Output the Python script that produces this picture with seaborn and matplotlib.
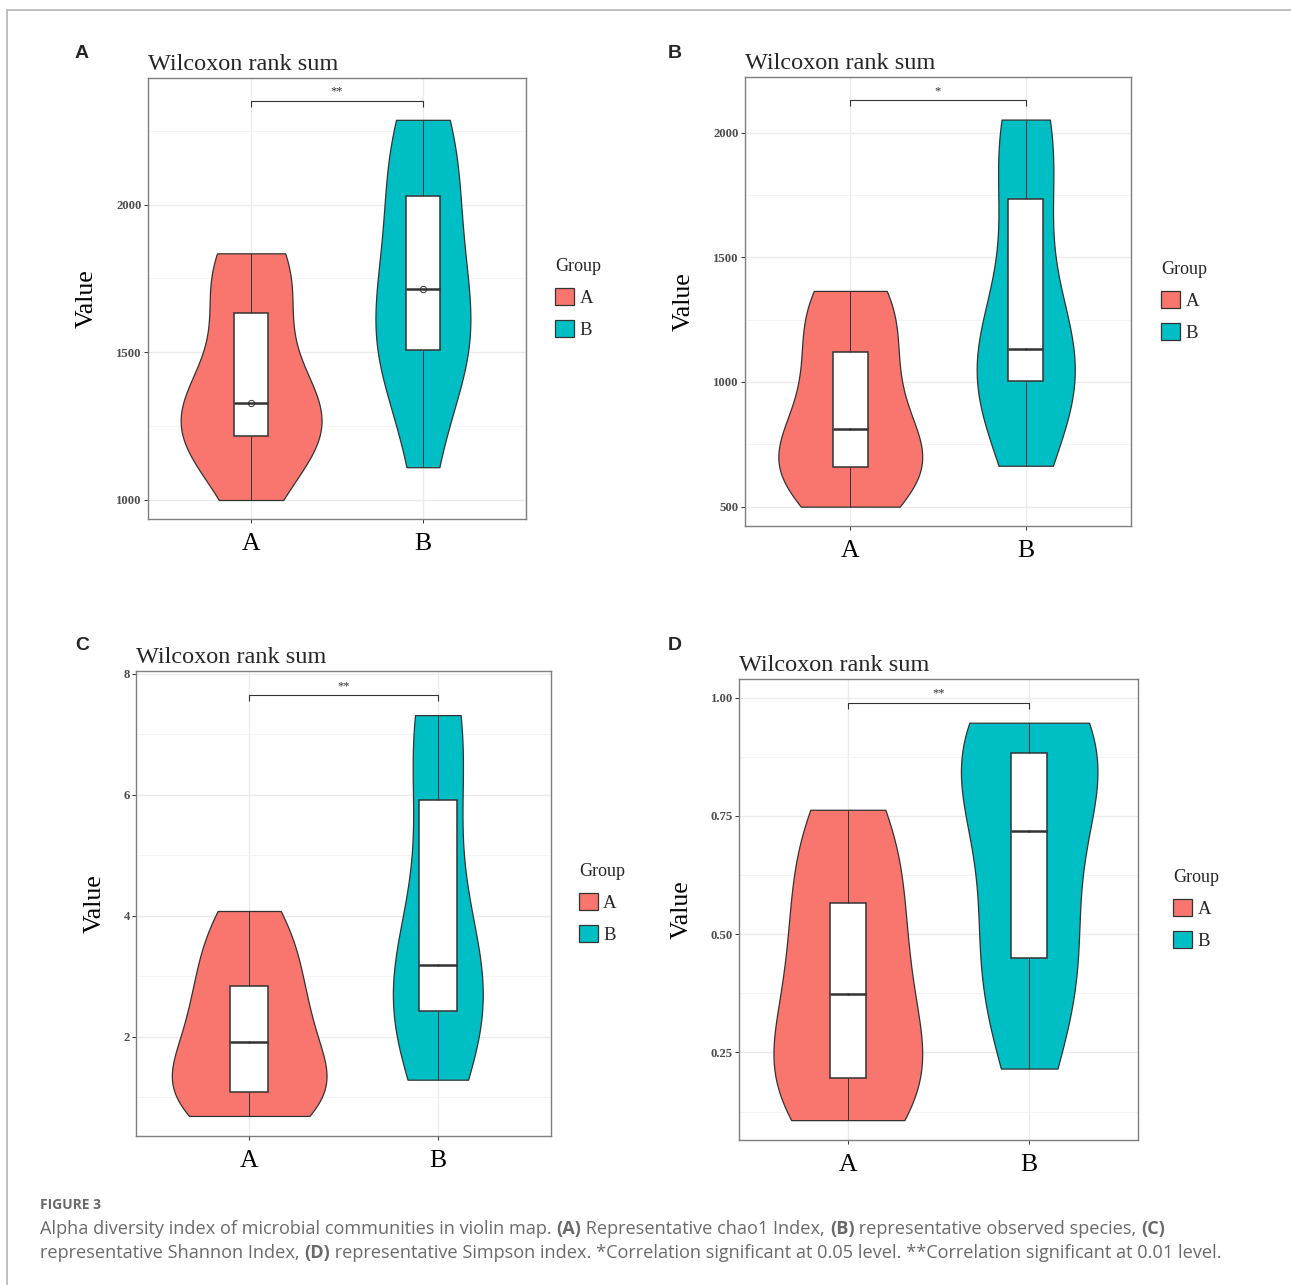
import numpy as np
import pandas as pd
import matplotlib
matplotlib.use("Agg")
import matplotlib.pyplot as plt
from matplotlib.ticker import AutoMinorLocator, MultipleLocator, FormatStrFormatter
from matplotlib.lines import Line2D
from matplotlib.patches import Patch
import seaborn as sns

# group labels and fill colours
groups = ["A", "B"]
palette = {"A": "#F8766D", "B": "#00BFC4"}

chao1_A = [1000, 1180, 1200, 1222, 1260, 1300, 1356, 1430, 1600, 1730, 1790, 1835]
chao1_B = [1111, 1390, 1480, 1515, 1560, 1640, 1786, 1850, 1990, 2140, 2220, 2287]
observed_A = [500, 600, 645, 665, 700, 745, 879, 1000, 1080, 1240, 1310, 1365]
observed_B = [664, 880, 980, 1012, 1050, 1100, 1164, 1350, 1680, 1900, 2000, 2052]
shannon_A = [0.69, 0.95, 1.02, 1.11, 1.35, 1.70, 2.14, 2.45, 2.70, 3.28, 3.60, 4.08]
shannon_B = [1.29, 2.05, 2.35, 2.46, 2.72, 2.96, 3.40, 4.30, 5.60, 6.88, 7.20, 7.32]
simpson_A = [0.107, 0.160, 0.180, 0.200, 0.260, 0.330, 0.418, 0.470, 0.540, 0.640, 0.700, 0.763]
simpson_B = [0.216, 0.330, 0.430, 0.457, 0.560, 0.680, 0.756, 0.840, 0.870, 0.926, 0.940, 0.947]

panel_letters = ["A", "B", "C", "D"]
significance = ["**", "*", "**", "**"]
major_steps = [500, 500, 2, 0.25]
tick_formats = ["%d", "%d", "%d", "%.2f"]

W, H = 1291, 1285
sns.set_theme(style="white")
plt.rcParams["font.family"] = ["Liberation Serif", "DejaVu Serif"]

fig = plt.figure(figsize=(W / 100, H / 100), dpi=100)


def px_rect(x0, y0, x1, y1):
    return [x0 / W, 1 - y1 / H, (x1 - x0) / W, (y1 - y0) / H]


# axes boxes in pixels (left, top, right, bottom), legend offset, letter pos
layout = [
    dict(box=(148, 78, 526, 519), leg=1.077, letter=(82, 54), big_mean=True),
    dict(box=(745, 77, 1131, 526), leg=1.078, letter=(675, 54), big_mean=False),
    dict(box=(136, 671, 551, 1136), leg=1.067, letter=(82, 645), big_mean=False),
    dict(box=(739, 679, 1138, 1140), leg=1.088, letter=(675, 645), big_mean=False),
]
datasets = [(chao1_A, chao1_B), (observed_A, observed_B),
            (shannon_A, shannon_B), (simpson_A, simpson_B)]

for i, (vals_a, vals_b) in enumerate(datasets):
    lay = layout[i]
    ax = fig.add_axes(px_rect(*lay["box"]))
    df = pd.DataFrame({
        "Group": ["A"] * len(vals_a) + ["B"] * len(vals_b),
        "Value": list(vals_a) + list(vals_b),
    })

    sns.violinplot(data=df, x="Group", y="Value", hue="Group", order=groups,
                   hue_order=groups, palette=palette, saturation=1, cut=0,
                   density_norm="area", common_norm=True, width=0.82,
                   bw_adjust=1.0, inner=None, linewidth=0.9,
                   linecolor="#333333", legend=False, ax=ax)
    sns.boxplot(data=df, x="Group", y="Value", order=groups, width=0.2,
                color="white", saturation=1, whis=(0, 100), showcaps=False,
                showfliers=False, linecolor="#333333", linewidth=1.1,
                medianprops={"linewidth": 1.8, "color": "#333333"},
                whiskerprops={"linewidth": 0.7, "color": "#333333"}, ax=ax)
    if lay["big_mean"]:
        sns.pointplot(data=df, x="Group", y="Value", order=groups,
                      estimator="median", errorbar=None, color="#333333",
                      marker="o", linestyle="none", markersize=4.5,
                      markerfacecolor="white", markeredgewidth=0.7, ax=ax)
    else:
        sns.pointplot(data=df, x="Group", y="Value", order=groups,
                      estimator="median", errorbar=None, color="#555555",
                      marker="o", linestyle="none", markersize=1.5,
                      markeredgewidth=0.3, ax=ax)

    lo, hi = df["Value"].min(), df["Value"].max()
    span = hi - lo
    ax.set_ylim(lo - 0.05 * span, hi + 0.11 * span)
    ax.set_xlim(-0.6, 1.6)

    # significance bracket
    xa, xb = ax.get_xticks()[:2]
    yb = hi + 0.05 * span
    drop = 0.016 * span
    ax.plot([xa, xa, xb, xb], [yb - drop, yb, yb, yb - drop],
            color="#333333", lw=0.8, solid_capstyle="butt")
    ax.text((xa + xb) / 2, yb + 0.008 * span, significance[i], ha="center",
            va="bottom", fontsize=9, color="#333333")

    ax.yaxis.set_major_locator(MultipleLocator(major_steps[i]))
    ax.yaxis.set_major_formatter(FormatStrFormatter(tick_formats[i]))
    ax.yaxis.set_minor_locator(AutoMinorLocator(2))
    ax.set_axisbelow(True)
    ax.grid(which="major", color="#EBEBEB", lw=1.0)
    ax.grid(which="minor", axis="y", color="#F3F3F3", lw=0.6)
    ax.tick_params(axis="y", which="major", left=True, length=3, width=0.7,
                   color="#333333", labelsize=9.2, labelcolor="#4D4D4D", pad=1.5)
    ax.tick_params(axis="x", which="major", bottom=True, length=3, width=0.7,
                   color="#333333", labelsize=18.5, labelcolor="black", pad=7)
    ax.tick_params(which="minor", length=0)
    for lbl in ax.get_yticklabels():
        lbl.set_fontweight("bold")
    for sp in ax.spines.values():
        sp.set_color("#7F7F7F")
        sp.set_linewidth(1.0)

    ax.set_xlabel("")
    ax.set_ylabel("Value", fontsize=18.5, color="black", labelpad=13)
    ax.set_title("Wilcoxon rank sum", loc="left", fontsize=17.5, pad=6)

    handles = [Patch(facecolor=palette[g], edgecolor="#333333", linewidth=0.9)
               for g in groups]
    ax.legend(handles, groups, loc="center left",
              bbox_to_anchor=(lay["leg"], 0.5), frameon=False, title="Group",
              fontsize=13.5, title_fontsize=13, handlelength=1.0,
              handleheight=1.0, handletextpad=0.3, labelspacing=0.7,
              borderpad=0, borderaxespad=0, alignment="left")

    fig.text(lay["letter"][0] / W, 1 - lay["letter"][1] / H, panel_letters[i],
             family=["Liberation Sans"], fontweight="bold", fontsize=14,
             ha="center", va="center")

# page frame lines
fig.add_artist(Line2D([7 / W, 1], [1 - 10 / H, 1 - 10 / H], color="#B5B5B5", lw=1.2))
fig.add_artist(Line2D([7 / W, 7 / W], [0, 1 - 10 / H], color="#B5B5B5", lw=1.2))

# caption
cap_font = ["Open Sans", "DejaVu Sans"]
fig.text(40 / W, 1 - 1205 / H, "FIGURE 3", family=cap_font, fontsize=10,
         fontweight="bold", color="#6A6A6A", va="center")

renderer = fig.canvas.get_renderer()


def rich_line(x_px, y_px, parts):
    x = x_px / W
    for txt, bold in parts:
        t = fig.text(x, 1 - y_px / H, txt, family=cap_font, fontsize=13.1,
                     fontweight="bold" if bold else "normal", color="#6A6A6A",
                     va="center")
        x += t.get_window_extent(renderer).width / W


rich_line(40, 1229, [
    ("Alpha diversity index of microbial communities in violin map. ", False),
    ("(A)", True), (" Representative chao1 Index, ", False),
    ("(B)", True), (" representative observed species, ", False),
    ("(C)", True)])
rich_line(40, 1253, [
    ("representative Shannon Index, ", False), ("(D)", True),
    (" representative Simpson index. *Correlation significant at 0.05 level. "
     "**Correlation significant at 0.01 level.", False)])

fig.savefig("out.png", dpi=100)
